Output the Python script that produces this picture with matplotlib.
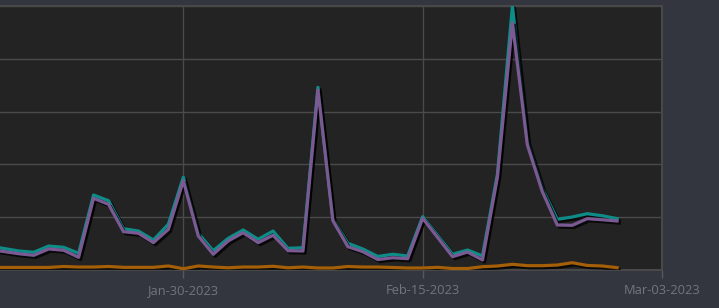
import matplotlib
matplotlib.use("Agg")
import matplotlib.pyplot as plt
import matplotlib.dates as mdates
import matplotlib.patheffects as pe
import numpy as np
import pandas as pd

# daily values, Jan-17-2023 .. Feb-28-2023
dates = pd.date_range("2023-01-17", "2023-02-28", freq="D")

total = [22.7, 20.4, 18.0, 16.8, 22.7, 21.5, 15.8, 71.0, 65.6, 39.1, 36.9, 28.4,
         43.3, 87.8, 34.8, 18.3, 30.0, 37.9, 29.1, 36.9, 20.5, 21.1, 173.0, 48.3,
         25.3, 19.9, 12.8, 14.9, 13.3, 50.5, 32.7, 14.9, 18.9, 13.3, 90.9, 250.0,
         121.5, 77.4, 48.0, 50.2, 53.3, 51.4, 48.6]

primary = [19.4, 17.5, 15.4, 13.9, 19.9, 18.7, 12.0, 67.9, 62.2, 36.3, 34.8, 25.9,
           38.5, 84.6, 32.2, 14.9, 27.5, 35.3, 25.9, 32.9, 18.3, 18.0, 170.5, 46.7,
           22.1, 17.3, 9.9, 11.6, 10.7, 49.0, 30.8, 12.6, 17.0, 9.5, 88.1, 233.9,
           118.4, 74.2, 42.6, 42.3, 48.6, 47.6, 46.4]

secondary = [2.4, 2.4, 2.4, 2.4, 2.4, 3.3, 2.8, 2.8, 3.3, 2.5, 2.5, 2.5,
             3.8, 1.2, 3.8, 2.8, 2.1, 2.8, 2.8, 3.5, 2.1, 2.8, 1.9, 1.9,
             3.3, 2.8, 2.8, 2.4, 1.9, 1.9, 2.5, 1.4, 1.4, 3.1, 3.8, 5.4,
             4.1, 4.1, 4.7, 6.9, 4.3, 3.8, 2.2]

x_start = pd.Timestamp("2023-01-14")
tick_dates = pd.to_datetime(["2023-01-30", "2023-02-15", "2023-03-03"])

FIG_BG = "#33363e"
AX_BG = "#232323"
GRID = "#4a4a4a"
TEXT = "#72757c"

fig = plt.figure(figsize=(7.19, 3.08), dpi=100, facecolor=FIG_BG)
# axes runs past the left edge of the picture (y labels are off-canvas)
ax = fig.add_axes([-56 / 719, 1 - 270 / 308, 718 / 719, 264 / 308])
ax.set_facecolor(AX_BG)

shadow = [pe.SimpleLineShadow(offset=(1.5, -1.5), shadow_color="black", alpha=0.75),
          pe.Normal()]

ax.plot(dates, total, color="#0e8d88", lw=2.3, path_effects=shadow, zorder=3)
ax.plot(dates, primary, color="#7b5a94", lw=2.3, path_effects=shadow, zorder=4)
ax.plot(dates, secondary, color="#a45f08", lw=2.3, path_effects=shadow, zorder=5)

ax.set_xlim(x_start, tick_dates[-1])
ax.set_ylim(0, 250)
ax.set_yticks(np.arange(0, 251, 50))
ax.set_xticks(tick_dates)
ax.xaxis.set_major_formatter(mdates.DateFormatter("%b-%d-%Y"))

ax.grid(True, color=GRID, lw=1.0)
ax.set_axisbelow(True)
for s in ax.spines.values():
    s.set_color("#484848")
    s.set_linewidth(1.5)

ax.tick_params(axis="x", colors="#55585f", labelcolor=TEXT, length=6, width=1,
               labelsize=9.3, pad=4)
ax.tick_params(axis="y", length=0, labelleft=False)
for lbl in ax.get_xticklabels():
    lbl.set_fontfamily("Open Sans")

fig.savefig("out.png", dpi=100, facecolor=FIG_BG)
